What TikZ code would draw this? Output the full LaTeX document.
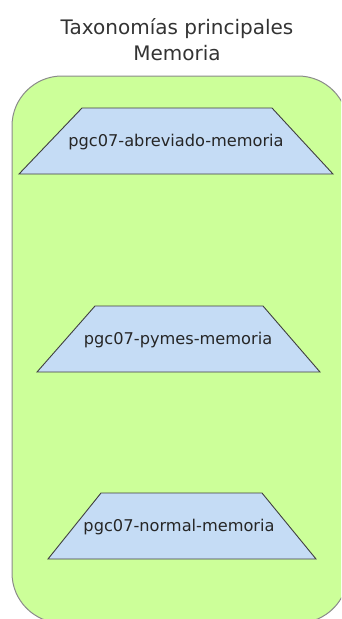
\documentclass[tikz,border=0pt]{standalone}
\usepackage{fontspec}
\setmainfont{DejaVu Sans}
\definecolor{boxgreen}{HTML}{CCFF99}
\definecolor{boxline}{HTML}{8A8A8A}
\definecolor{trapblue}{HTML}{C5DCF5}
\definecolor{trapline}{HTML}{404040}
\definecolor{titlegray}{HTML}{333333}
\tikzset{
  container/.style={fill=boxgreen, draw=boxline, line width=1pt, rounded corners=50pt},
  trapbox/.style={fill=trapblue, draw=trapline, line width=0.9pt},
  traplabel/.style={font=\fontsize{16.2}{18}\selectfont, text=black!85, inner sep=0pt},
  titletext/.style={font=\fontsize{20}{26}\selectfont, text=titlegray, align=center, inner sep=0pt}
}
\begin{document}
\begin{tikzpicture}[x=1pt,y=-1pt]
\useasboundingbox (0,0) rectangle (341,619);
\begin{scope}
\clip (0,0) rectangle (341,619);
\node[titletext] (title) at (177,40) {Taxonomías principales\\Memoria};
\draw[container] (12,76) rectangle (348,623);
\draw[trapbox] (19,174) -- (82,108) -- (272,108) -- (333,174) -- cycle;
\node[traplabel] (t1) at (176,142) {pgc07-abreviado-memoria};
\draw[trapbox] (37,372) -- (95,306) -- (263,306) -- (320,372) -- cycle;
\node[traplabel] (t2) at (178,340) {pgc07-pymes-memoria};
\draw[trapbox] (48,559) -- (101,493) -- (262,493) -- (316,559) -- cycle;
\node[traplabel] (t3) at (179,527) {pgc07-normal-memoria};
\end{scope}
\end{tikzpicture}
\end{document}
